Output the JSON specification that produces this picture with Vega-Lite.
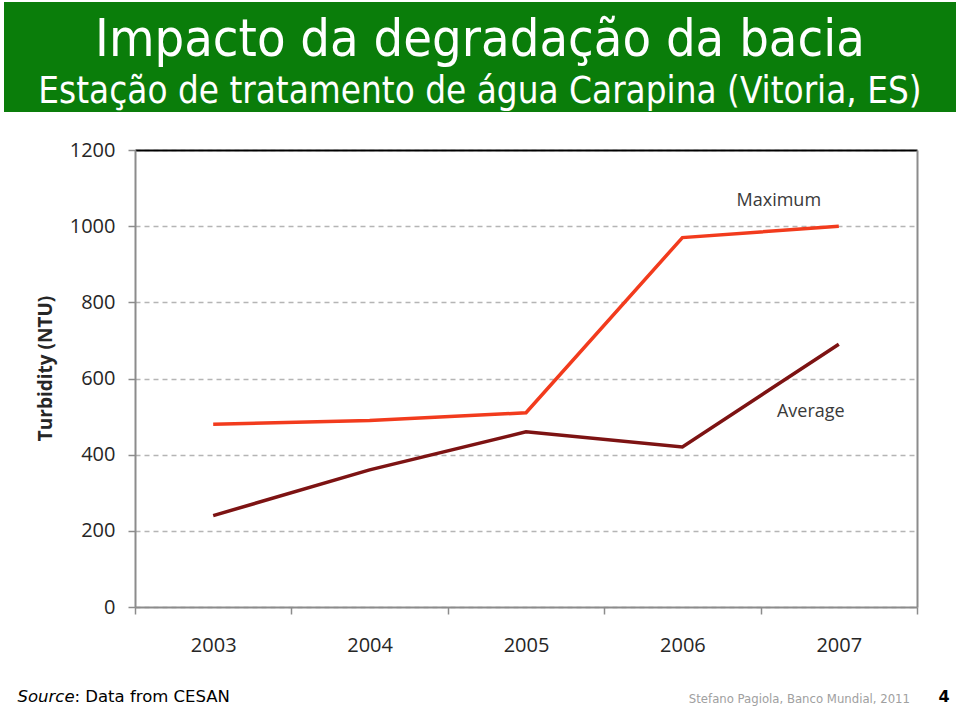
{
  "$schema": "https://vega.github.io/schema/vega-lite/v6.json",
  "padding": {"left": 4, "top": 2, "right": 0, "bottom": 0},
  "background": "white",
  "spacing": 28,
  "config": {"font": "Open Sans"},
  "vconcat": [
    {
      "width": 952,
      "height": 110,
      "view": {"fill": "#0a7d0a", "stroke": null},
      "title": {
        "text": "Impacto da degradação da bacia",
        "subtitle": "Estação de tratamento de água Carapina (Vitoria, ES)",
        "orient": "top",
        "anchor": "middle",
        "frame": "group",
        "offset": -109,
        "font": "DejaVu Sans Condensed",
        "fontSize": 52,
        "fontWeight": "normal",
        "color": "white",
        "subtitleFont": "DejaVu Sans Condensed",
        "subtitleFontSize": 36.5,
        "subtitleColor": "white",
        "subtitlePadding": 7
      },
      "data": {"values": [{"t": ""}]},
      "mark": {"type": "text"},
      "encoding": {"text": {"field": "t"}}
    },
    {
      "spacing": 0,
      "hconcat": [
        {
          "width": 13,
          "height": 1,
          "view": {"stroke": null},
          "data": {"values": [{"t": ""}]},
          "mark": {"type": "text"},
          "encoding": {"text": {"field": "t"}}
        },
        {
          "width": 782,
          "height": 457,
          "view": {"stroke": null},
          "title": {
            "text": "Stefano Pagiola, Banco Mundial, 2011",
            "orient": "top",
            "anchor": "end",
            "frame": "group",
            "offset": -576,
            "dx": -7,
            "font": "DejaVu Sans Condensed",
            "fontSize": 13,
            "fontWeight": "normal",
            "color": "#a0a0a0",
            "baseline": "alphabetic"
          },
          "data": {
            "values": [
              {"year": "2003", "series": "Maximum", "value": 480},
              {"year": "2004", "series": "Maximum", "value": 490},
              {"year": "2005", "series": "Maximum", "value": 510},
              {"year": "2006", "series": "Maximum", "value": 970},
              {"year": "2007", "series": "Maximum", "value": 1000},
              {"year": "2003", "series": "Average", "value": 240},
              {"year": "2004", "series": "Average", "value": 360},
              {"year": "2005", "series": "Average", "value": 460},
              {"year": "2006", "series": "Average", "value": 420},
              {"year": "2007", "series": "Average", "value": 690}
            ]
          },
          "resolve": {"axis": {"x": "independent", "y": "independent"}},
          "layer": [
            {
              "mark": {"type": "line", "strokeWidth": 3.5},
              "encoding": {
                "x": {
                  "field": "year",
                  "type": "ordinal",
                  "bandPosition": 0.5,
                  "scale": {"type": "band", "paddingInner": 0, "paddingOuter": 0},
                  "axis": {
                    "orient": "bottom",
                    "title": "Source",
                    "titleFont": "DejaVu Sans",
                    "titleFontStyle": "italic",
                    "titleFontSize": 16.5,
                    "titleFontWeight": "normal",
                    "titleColor": "black",
                    "titleX": -118,
                    "titleY": 94,
                    "titleAlign": "left",
                    "titleBaseline": "alphabetic",
                    "labelAngle": 0,
                    "labelFontSize": 20,
                    "labelColor": "#262626",
                    "labelPadding": 21,
                    "tickBand": "extent",
                    "tickSize": 7,
                    "tickColor": "#8c8c8c",
                    "tickWidth": 1.5,
                    "domainColor": "#8c8c8c",
                    "domainWidth": 2,
                    "grid": false
                  }
                },
                "y": {
                  "field": "value",
                  "type": "quantitative",
                  "scale": {"domain": [0, 1200], "nice": false},
                  "axis": {
                    "orient": "left",
                    "values": [0, 200, 400, 600, 800, 1000, 1200],
                    "format": "d",
                    "title": "Turbidity (NTU)",
                    "titleFontSize": 19,
                    "titleFontWeight": "bold",
                    "titleColor": "#262626",
                    "titlePadding": 14,
                    "titleY": 218,
                    "labelFontSize": 20,
                    "labelColor": "#262626",
                    "labelPadding": 13,
                    "labelFlush": false,
                    "tickSize": 7,
                    "tickColor": "#8c8c8c",
                    "tickWidth": 1.5,
                    "domainColor": "#8c8c8c",
                    "domainWidth": 2,
                    "grid": true,
                    "gridColor": "#b5b5b5",
                    "gridDash": [5, 4],
                    "gridWidth": 1.5
                  }
                },
                "color": {
                  "field": "series",
                  "type": "nominal",
                  "scale": {"domain": ["Maximum", "Average"], "range": ["#f23b1d", "#7d1313"]},
                  "legend": null
                }
              }
            },
            {
              "data": {"values": [{"year": "2007", "value": 1066, "label": "Maximum"}]},
              "mark": {"type": "text", "fontSize": 18, "color": "#3a3a3a", "dx": -60},
              "encoding": {
                "x": {
                  "field": "year",
                  "type": "ordinal",
                  "bandPosition": 0.5,
                  "axis": {
                    "orient": "top",
                    "labels": false,
                    "ticks": false,
                    "grid": false,
                    "domainColor": "black",
                    "domainWidth": 2,
                    "title": ": Data from CESAN",
                    "titleFont": "DejaVu Sans",
                    "titleFontSize": 16.5,
                    "titleFontWeight": "normal",
                    "titleColor": "black",
                    "titleX": -61,
                    "titleY": 551,
                    "titleAlign": "left",
                    "titleBaseline": "alphabetic"
                  }
                },
                "y": {
                  "field": "value",
                  "type": "quantitative",
                  "axis": {
                    "orient": "right",
                    "labels": false,
                    "ticks": false,
                    "grid": false,
                    "domainColor": "#8c8c8c",
                    "domainWidth": 2,
                    "title": "4",
                    "titleAngle": 0,
                    "titleFont": "DejaVu Sans",
                    "titleFontSize": 16,
                    "titleFontWeight": "bold",
                    "titleColor": "black",
                    "titleX": 21,
                    "titleY": 551,
                    "titleAlign": "left",
                    "titleBaseline": "alphabetic"
                  }
                },
                "text": {"field": "label"}
              }
            },
            {
              "data": {"values": [{"year": "2007", "value": 512, "label": "Average"}]},
              "mark": {"type": "text", "fontSize": 18, "color": "#3a3a3a", "dx": -28},
              "encoding": {
                "x": {"field": "year", "type": "ordinal", "bandPosition": 0.5, "axis": null},
                "y": {"field": "value", "type": "quantitative", "axis": null},
                "text": {"field": "label"}
              }
            }
          ]
        }
      ]
    }
  ]
}
